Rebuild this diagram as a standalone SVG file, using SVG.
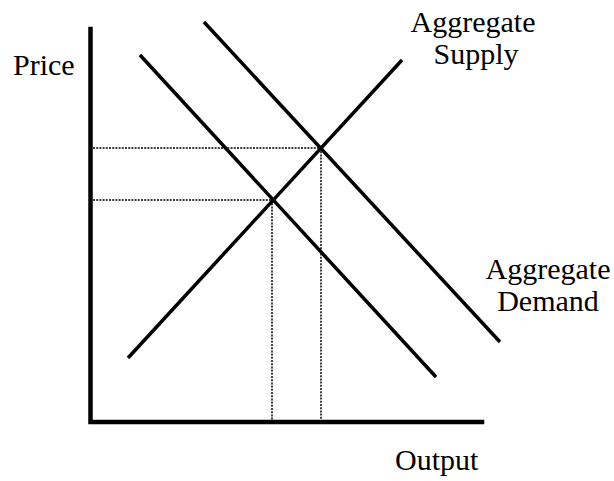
<svg xmlns="http://www.w3.org/2000/svg" width="614" height="481" viewBox="0 0 614 481">
<style>
.axis{stroke:#000;stroke-width:4.5;fill:none;stroke-linecap:square}
.curve{stroke:#000;stroke-width:3.5;fill:none}
.dot{stroke:#000;stroke-width:1.5;stroke-dasharray:2 1.2;fill:none}
.lbl{font-family:"Liberation Serif","Times New Roman",serif;font-size:30px;fill:#000}
</style>
<rect width="614" height="481" fill="#fff"/>
<g id="axes">
<polyline class="axis" points="90.5,29 90.5,422 482,422"/>
</g>
<g id="connectors">
<line class="dot" x1="93" y1="148" x2="321" y2="148"/>
<line class="dot" x1="93" y1="200" x2="272" y2="200"/>
<line class="dot" x1="321" y1="148" x2="321" y2="420"/>
<line class="dot" x1="272" y1="200" x2="272" y2="420"/>
</g>
<g id="demand1"><line class="curve" x1="140" y1="55" x2="436" y2="377"/></g>
<g id="demand2"><line class="curve" x1="204" y1="22" x2="500" y2="342"/></g>
<g id="supply"><line class="curve" x1="128" y1="358" x2="402" y2="60"/></g>
<g id="label-price"><text class="lbl" x="13" y="75">Price</text></g>
<g id="label-supply"><text class="lbl" x="473" y="32" text-anchor="middle" font-size="28.5">Aggregate</text><text class="lbl" x="476" y="64" text-anchor="middle" font-size="28.5">Supply</text></g>
<g id="label-demand"><text class="lbl" x="548" y="279" text-anchor="middle" font-size="31">Aggregate</text><text class="lbl" x="548" y="311" text-anchor="middle" font-size="31">Demand</text></g>
<g id="label-output"><text class="lbl" x="395" y="470">Output</text></g>
</svg>
